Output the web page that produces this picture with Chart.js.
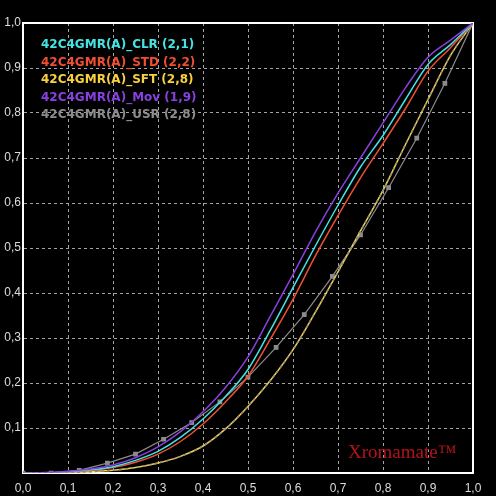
<!DOCTYPE html>
<html>
<head>
<meta charset="utf-8">
<script src="https://cdn.jsdelivr.net/npm/chart.js@4.4.1/dist/chart.umd.min.js"></script>
<style>
  html, body { margin: 0; padding: 0; background: #000; }
  canvas { display: block; }
</style>
</head>
<body>
<canvas id="toneChart" width="496" height="496"></canvas>
<script>
// input levels for the smooth curves
const inputLevels = [0, 0.05, 0.1, 0.15, 0.2, 0.25, 0.3, 0.35, 0.4, 0.45, 0.5,
                     0.55, 0.6, 0.65, 0.7, 0.75, 0.8, 0.85, 0.9, 0.95, 1.0];

const clrCurve = [0, 0, 0.003, 0.007, 0.014, 0.028, 0.048, 0.079, 0.12, 0.17, 0.23,
                  0.318, 0.412, 0.505, 0.595, 0.68, 0.75, 0.83, 0.908, 0.952, 1.0];
const stdCurve = [0, 0, 0.002, 0.006, 0.012, 0.024, 0.042, 0.07, 0.109, 0.158, 0.215,
                  0.298, 0.386, 0.483, 0.572, 0.656, 0.732, 0.81, 0.893, 0.945, 1.0];
const sftCurve = [0, 0, 0.001, 0.003, 0.006, 0.012, 0.022, 0.037, 0.06, 0.098, 0.148,
                  0.206, 0.274, 0.358, 0.447, 0.538, 0.628, 0.73, 0.83, 0.928, 1.0];
const movCurve = [0, 0.001, 0.004, 0.009, 0.018, 0.034, 0.058, 0.092, 0.136, 0.19, 0.258,
                  0.349, 0.441, 0.536, 0.622, 0.7, 0.778, 0.856, 0.924, 0.962, 1.0];
const usrCurve = sftCurve.slice(); // USR (2,8) sits on top of SFT (2,8)

// control points of the user curve (grey squares)
const usrLevels = [0, 0.0625, 0.125, 0.1875, 0.25, 0.3125, 0.375, 0.4375, 0.5,
                   0.5625, 0.625, 0.6875, 0.75, 0.8125, 0.875, 0.9375, 1.0];
const usrPoints = [0, 0, 0.006, 0.022, 0.042, 0.075, 0.112, 0.158, 0.213,
                   0.279, 0.352, 0.437, 0.529, 0.634, 0.744, 0.866, 1.0];

const axisTicks = [0, 0.1, 0.2, 0.3, 0.4, 0.5, 0.6, 0.7, 0.8, 0.9, 1.0];

const seriesNames = ['42C4GMR(A)_CLR (2,1)', '42C4GMR(A)_STD (2,2)', '42C4GMR(A)_SFT (2,8)',
                     '42C4GMR(A)_Mov (1,9)', '42C4GMR(A)_USR (2,8)'];
const seriesColors = ['#44e4e4', '#f05030', '#f8d040', '#8840e0', '#8c8c8c'];

const pairs = (xs, ys) => xs.map((x, i) => ({ x: x, y: ys[i] }));
const fmt = v => v.toFixed(1).replace('.', ',');

const curveDataset = (idx, values, extra) => Object.assign({
    label: seriesNames[idx],
    data: pairs(inputLevels, values),
    borderColor: seriesColors[idx],
    borderWidth: 1.5,
    pointRadius: 0,
    cubicInterpolationMode: 'monotone',
    fill: false
}, extra || {});

// black background + white frame
const framePlugin = {
    id: 'frame',
    beforeDraw(chart) {
        const ctx = chart.ctx;
        ctx.save();
        ctx.fillStyle = '#000';
        ctx.fillRect(0, 0, chart.width, chart.height);
        ctx.restore();
    },
    beforeDatasetsDraw(chart) {
        const { ctx, chartArea: a } = chart;
        ctx.save();
        ctx.strokeStyle = '#ffffff';
        ctx.lineWidth = 2;
        ctx.strokeRect(a.left, a.top, a.right - a.left, a.bottom - a.top);
        ctx.restore();
    }
};

// coloured text legend inside the plot + watermark
const textPlugin = {
    id: 'texts',
    afterDatasetsDraw(chart) {
        const { ctx, chartArea: a } = chart;
        ctx.save();
        ctx.font = 'bold 12px "DejaVu Sans"';
        ctx.textBaseline = 'middle';
        ctx.textAlign = 'left';
        seriesNames.forEach((name, i) => {
            ctx.fillStyle = seriesColors[i];
            ctx.fillText(name, a.left + 18, a.top + 22 + i * 17.5);
        });
        ctx.font = '19px "Liberation Serif"';
        ctx.textBaseline = 'alphabetic';
        ctx.fillStyle = '#b3141c';
        ctx.fillText('Xromamate\u2122', a.left + 325, a.bottom - 15);
        ctx.restore();
    }
};

const scaleOptions = (isY) => ({
    type: 'linear',
    min: 0,
    max: 1,
    afterBuildTicks: s => { s.ticks = axisTicks.map(v => ({ value: v })); },
    afterFit: s => { if (isY) s.width = 23; else s.height = 23; },
    grid: { color: '#a4a4a4', lineWidth: 1, drawTicks: false },
    border: { display: true, color: '#ffffff', width: 2, dash: [3, 3] },
    ticks: {
        color: '#dcdcdc',
        font: { family: '"Liberation Sans"', size: 12 },
        padding: isY ? 2 : 8,
        autoSkip: false,
        maxRotation: 0,
        callback: v => (isY && v === 0) ? '' : fmt(v)
    }
});

new Chart(document.getElementById('toneChart').getContext('2d'), {
    type: 'line',
    data: {
        datasets: [
            curveDataset(4, usrCurve, { borderDash: [3, 3], borderWidth: 1.5 }),
            curveDataset(3, movCurve),
            curveDataset(0, clrCurve),
            curveDataset(1, stdCurve),
            curveDataset(2, sftCurve),
            {
                label: 'USR points',
                data: pairs(usrLevels, usrPoints),
                borderColor: seriesColors[4],
                backgroundColor: seriesColors[4],
                borderWidth: 1.2,
                pointStyle: 'rect',
                pointRadius: 2.5,
                tension: 0,
                fill: false
            }
        ]
    },
    options: {
        responsive: false,
        devicePixelRatio: 1,
        animation: false,
        layout: { padding: { top: 23, right: 23, left: 0, bottom: 0 } },
        plugins: {
            legend: { display: false },
            tooltip: { enabled: false },
            title: { display: false }
        },
        scales: {
            x: scaleOptions(false),
            y: scaleOptions(true)
        }
    },
    plugins: [framePlugin, textPlugin]
});
</script>
</body>
</html>
